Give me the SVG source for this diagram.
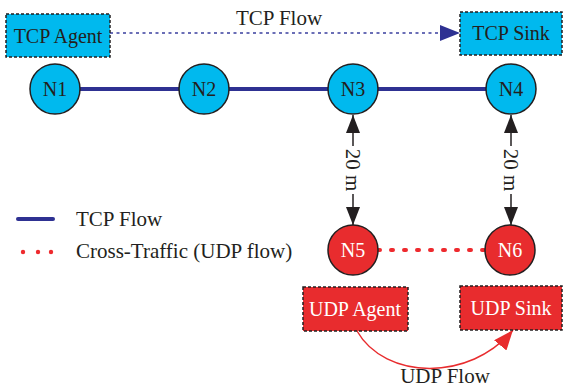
<svg xmlns="http://www.w3.org/2000/svg" width="563" height="387" viewBox="0 0 563 387">
<style>
text{font-family:"Liberation Serif","Times New Roman",serif;font-size:21px;fill:#231f20}
.nt{text-anchor:middle;font-size:20px}
.w{fill:#ffffff}
.cyan{fill:#00b9ee;stroke:#231f20;stroke-width:1.5}
.red{fill:#e82c2e;stroke:#231f20;stroke-width:1.5}
.box{stroke-dasharray:3 2}
</style>
<defs>
<marker id="ab" markerUnits="userSpaceOnUse" markerWidth="18" markerHeight="14" refX="18" refY="7" orient="auto-start-reverse"><path d="M0,0 L18,7 L0,14 z" fill="#231f20"/></marker>
<marker id="ablue" markerUnits="userSpaceOnUse" markerWidth="20" markerHeight="16" refX="20" refY="8" orient="auto"><path d="M0,0 L20,8 L0,16 z" fill="#2e3192"/></marker>
<marker id="ared" markerUnits="userSpaceOnUse" markerWidth="20" markerHeight="16" refX="20" refY="8" orient="auto"><path d="M0,0 L20,8 L0,16 z" fill="#e82c2e"/></marker>
</defs>
<g id="connectors">
<line x1="55" y1="89" x2="511" y2="89" stroke="#2e3192" stroke-width="4"/>
<line x1="110" y1="33" x2="460" y2="33" stroke="#3a3f9f" stroke-width="1.5" stroke-dasharray="3 3.5" marker-end="url(#ablue)"/>
<line x1="378" y1="250" x2="486" y2="250" stroke="#ee2a2e" stroke-width="4" stroke-linecap="round" stroke-dasharray="2 11"/>
<line x1="353" y1="146" x2="353" y2="115" stroke="#231f20" stroke-width="1.5" marker-end="url(#ab)"/>
<line x1="353" y1="194" x2="353" y2="225" stroke="#231f20" stroke-width="1.5" marker-end="url(#ab)"/>
<line x1="511" y1="146" x2="511" y2="115" stroke="#231f20" stroke-width="1.5" marker-end="url(#ab)"/>
<line x1="511" y1="194" x2="511" y2="225" stroke="#231f20" stroke-width="1.5" marker-end="url(#ab)"/>
<path d="M357,331 C385,380 470,382 513,330" fill="none" stroke="#e82c2e" stroke-width="1.5" marker-end="url(#ared)"/>
<text x="279" y="25" text-anchor="middle">TCP Flow</text>
<text x="445" y="383" text-anchor="middle">UDP Flow</text>
<text transform="translate(346,170) rotate(90)" text-anchor="middle">20 m</text>
<text transform="translate(504,170) rotate(90)" text-anchor="middle">20 m</text>
</g>
<g id="tcp-agent"><rect class="cyan box" x="6" y="14" width="104" height="43"/><text class="nt" x="58" y="43">TCP Agent</text></g>
<g id="tcp-sink"><rect class="cyan box" x="460" y="12" width="102" height="43"/><text class="nt" x="511" y="40">TCP Sink</text></g>
<g id="n1"><circle class="cyan" cx="55" cy="89" r="25"/><text class="nt" x="55" y="96">N1</text></g>
<g id="n2"><circle class="cyan" cx="204" cy="89" r="25"/><text class="nt" x="204" y="96">N2</text></g>
<g id="n3"><circle class="cyan" cx="353" cy="89" r="25"/><text class="nt" x="353" y="96">N3</text></g>
<g id="n4"><circle class="cyan" cx="511" cy="89" r="25"/><text class="nt" x="511" y="96">N4</text></g>
<g id="n5"><circle class="red" cx="353" cy="250" r="25"/><text class="nt w" x="353" y="257">N5</text></g>
<g id="n6"><circle class="red" cx="510" cy="250" r="25"/><text class="nt w" x="510" y="257">N6</text></g>
<g id="udp-agent"><rect class="red box" x="303" y="287" width="105" height="44"/><text class="nt w" x="355" y="316">UDP Agent</text></g>
<g id="udp-sink"><rect class="red box" x="460" y="286" width="102" height="44"/><text class="nt w" x="511" y="315">UDP Sink</text></g>
<g id="legend">
<line x1="18" y1="219" x2="53" y2="219" stroke="#2e3192" stroke-width="4" stroke-linecap="round"/>
<text x="76" y="226">TCP Flow</text>
<circle cx="23" cy="252" r="2.2" fill="#ee2a2e"/><circle cx="38" cy="252" r="2.2" fill="#ee2a2e"/><circle cx="51" cy="252" r="2.2" fill="#ee2a2e"/>
<text x="76" y="258">Cross-Traffic (UDP flow)</text>
</g>
</svg>
